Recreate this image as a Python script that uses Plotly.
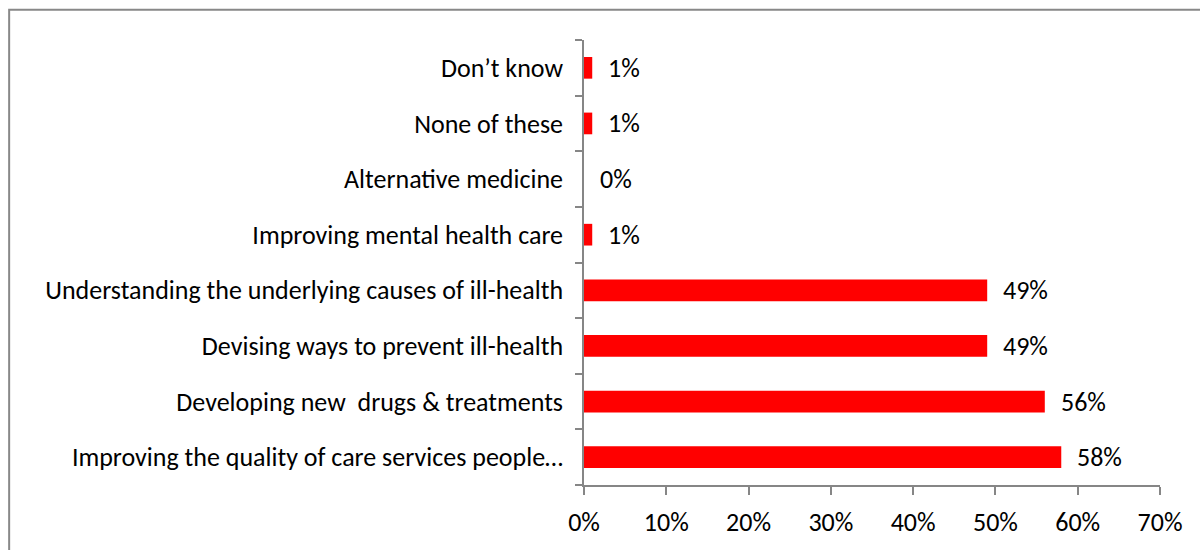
import plotly.graph_objects as go

# Survey responses, listed bottom to top as drawn
categories = [
    "Improving the quality of care services people…",
    "Developing new\u00a0 drugs & treatments",
    "Devising ways to prevent ill-health",
    "Understanding the underlying causes of ill-health",
    "Improving mental health care",
    "Alternative medicine",
    "None of these",
    "Don’t know",
]
values = [58, 56, 49, 49, 1, 0, 1, 1]
x_ticks = [0, 10, 20, 30, 40, 50, 60, 70]
x_tick_labels = [f"{t}%" for t in x_ticks]

FONT = "Carlito, Lato, sans-serif"
FONT_SIZE = 26
AXIS_GRAY = "#868686"

fig = go.Figure(
    go.Bar(
        x=values,
        y=categories,
        orientation="h",
        marker=dict(color="#ff0000", line=dict(width=0)),
        hoverinfo="skip",
    )
)

# Value labels to the right of each bar
for v, c in zip(values, categories):
    fig.add_annotation(
        x=v, y=c, xref="x", yref="y",
        text=f"{v}%", showarrow=False,
        xanchor="left", yanchor="middle", xshift=14,
        font=dict(family=FONT, size=FONT_SIZE, color="#000000"),
    )

# Outer chart frame
fig.add_shape(
    type="rect", xref="paper", yref="paper",
    x0=-0.998, x1=1.09, y0=-0.16, y1=1.068,
    line=dict(color="#888888", width=2),
    fillcolor="rgba(0,0,0,0)",
)

fig.update_layout(
    width=1200, height=550,
    margin=dict(l=584, r=40, t=40, b=60),
    paper_bgcolor="#ffffff",
    plot_bgcolor="#ffffff",
    bargap=0.61,
    showlegend=False,
    font=dict(family=FONT, size=FONT_SIZE, color="#000000"),
)

fig.update_xaxes(
    range=[0, 70],
    tickvals=x_ticks,
    ticktext=x_tick_labels,
    showgrid=False,
    zeroline=False,
    showline=True,
    linecolor=AXIS_GRAY,
    linewidth=1.5,
    ticks="outside",
    ticklen=8,
    tickwidth=1.5,
    tickcolor=AXIS_GRAY,
    ticklabelstandoff=5,
    tickfont=dict(family=FONT, size=FONT_SIZE, color="#000000"),
)

fig.update_yaxes(
    categoryorder="array",
    categoryarray=categories,
    tickson="boundaries",
    showgrid=False,
    zeroline=False,
    showline=True,
    linecolor=AXIS_GRAY,
    linewidth=1.5,
    ticks="outside",
    ticklen=7,
    tickwidth=1.5,
    tickcolor=AXIS_GRAY,
    ticklabelstandoff=14,
    tickfont=dict(family=FONT, size=FONT_SIZE, color="#000000"),
)

fig.write_html("out.html")
